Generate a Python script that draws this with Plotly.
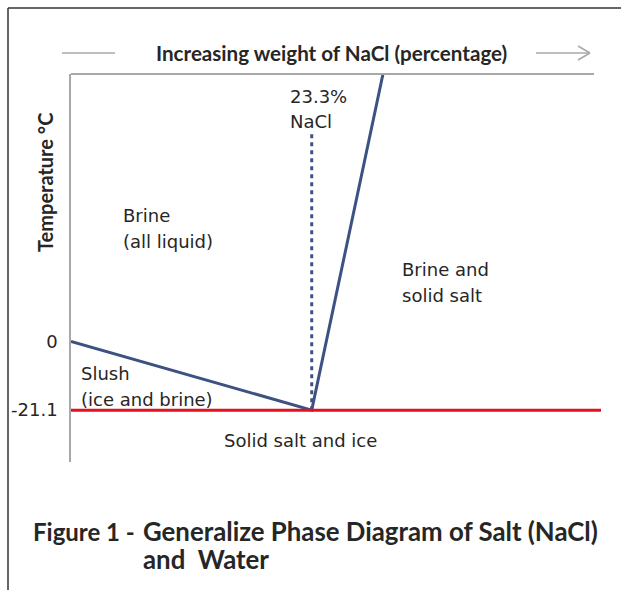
import plotly.graph_objects as go

# ---- data ----
liquidus_x = [0, 23.3, 31.0]          # % NaCl
liquidus_y = [0, -21.1, 94.0]         # temperature °C (last point runs off the top)
eutectic_x = [23.3, 23.3]
eutectic_y = [-21.1, 63.5]
solidus_x = [0, 52]
solidus_y = [-21.1, -21.1]
ytick_vals = [0, -21.1]
ytick_text = ["0", "-21.1"]

W, H = 621, 590
L, R, T, B = 71, 601, 74, 462


def px(x):
    return (x - L) / (R - L)


def py(y):
    return (B - y) / (B - T)


BLUE = "#3d5283"
RED = "#e3101f"
GRAY = "#a8a8a8"
TXT = "#262626"
FONT = "DejaVu Sans"
BOLD = "Lato"

fig = go.Figure()
fig.add_trace(go.Scatter(x=liquidus_x, y=liquidus_y, mode="lines",
                         line=dict(color=BLUE, width=3), hoverinfo="skip"))
fig.add_trace(go.Scatter(x=eutectic_x, y=eutectic_y, mode="lines",
                         line=dict(color=BLUE, width=3, dash="4px,4px"), hoverinfo="skip"))
fig.add_trace(go.Scatter(x=solidus_x, y=solidus_y, mode="lines",
                         line=dict(color=RED, width=3), hoverinfo="skip"))

shapes = []
# outer frame (left and top)
shapes.append(dict(type="line", xref="paper", yref="paper", x0=px(8), x1=px(8), y0=py(8), y1=py(600),
                   line=dict(color="#333333", width=1.5)))
shapes.append(dict(type="line", xref="paper", yref="paper", x0=px(8), x1=px(630), y0=py(8), y1=py(8),
                   line=dict(color="#333333", width=1.5)))
# top axis line
shapes.append(dict(type="line", xref="paper", yref="paper", x0=0, x1=px(594), y0=1, y1=1,
                   line=dict(color=GRAY, width=2)))
# header lines and arrow
shapes.append(dict(type="line", xref="paper", yref="paper", x0=px(62), x1=px(115), y0=py(53), y1=py(53),
                   line=dict(color=GRAY, width=1.5)))
shapes.append(dict(type="line", xref="paper", yref="paper", x0=px(536), x1=px(589), y0=py(53), y1=py(53),
                   line=dict(color=GRAY, width=1.5)))
shapes.append(dict(type="line", xref="paper", yref="paper", x0=px(578), x1=px(590), y0=py(46), y1=py(53),
                   line=dict(color=GRAY, width=1.5)))
shapes.append(dict(type="line", xref="paper", yref="paper", x0=px(578), x1=px(590), y0=py(60), y1=py(53),
                   line=dict(color=GRAY, width=1.5)))

ann = []


def text(s, x, y, xanchor="left", size=18, family=FONT, color=TXT):
    ann.append(dict(text=s, x=px(x - 2 if xanchor == "left" else x), y=py(y), xref="paper", yref="paper",
                    showarrow=False, xanchor=xanchor, yanchor="middle", align="left",
                    font=dict(family=family, size=size, color=color)))


text("23.3%", 290, 96)
text("NaCl", 290, 121)
text("Brine", 123, 215)
text("(all liquid)", 123, 241)
text("Brine and", 402, 269)
text("solid salt", 402, 295)
text("Slush", 81, 373)
text("(ice and brine)", 81, 399)
text("Solid salt and ice", 300, 440, xanchor="center")
text("<b>Increasing weight of NaCl (percentage)</b>", 331, 53, xanchor="center", size=20.6, family=BOLD)
text("<b>Figure 1 -</b>", 33, 531, size=24, family=BOLD)
text("<b>Generalize Phase Diagram of Salt (NaCl)</b>", 143, 531, size=25.8, family=BOLD)
text("<b>and  Water</b>", 143, 559, size=25.8, family=BOLD)
ann.append(dict(text="<b>Temperature °C</b>", x=px(45), y=py(183), xref="paper", yref="paper",
                showarrow=False, textangle=-90, xanchor="center", yanchor="middle",
                font=dict(family=BOLD, size=20, color=TXT)))

fig.update_layout(
    width=W, height=H,
    margin=dict(l=L, r=W - R, t=T, b=H - B),
    paper_bgcolor="white", plot_bgcolor="white",
    showlegend=False,
    shapes=shapes, annotations=ann,
    xaxis=dict(range=[0, 51.3], showgrid=False, zeroline=False, showticklabels=False,
               ticks="", showline=False, fixedrange=True),
    yaxis=dict(range=[-37, 82], showgrid=False, zeroline=False, tickvals=ytick_vals,
               ticktext=ytick_text, ticks="", showline=True, linecolor=GRAY, linewidth=1.5,
               tickfont=dict(family=FONT, size=18, color=TXT), ticklabelstandoff=8,
               fixedrange=True),
)

fig.write_html("out.html", config={"displayModeBar": False},
               post_script="document.body.style.margin='0';")
